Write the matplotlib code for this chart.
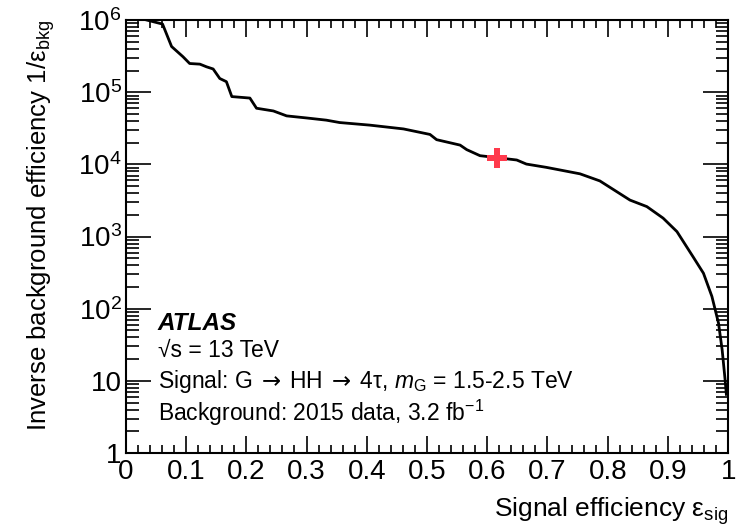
import numpy as np
import matplotlib
matplotlib.use('Agg')
import matplotlib.pyplot as plt
from matplotlib.ticker import LogLocator, MultipleLocator, NullFormatter

plt.rcParams['font.family'] = ['Liberation Sans', 'DejaVu Sans']
plt.rcParams['mathtext.fontset'] = 'custom'
plt.rcParams['mathtext.rm'] = 'Liberation Sans'
plt.rcParams['mathtext.it'] = 'Liberation Sans:italic'
plt.rcParams['mathtext.bf'] = 'Liberation Sans:bold'
plt.rcParams['mathtext.sf'] = 'DejaVu Sans'
plt.rcParams['mathtext.default'] = 'regular'

# ROC curve
eff_sig = [0.035, 0.061, 0.076, 0.095, 0.106, 0.123, 0.134, 0.145, 0.156, 0.167,
           0.176, 0.206, 0.217, 0.245, 0.267, 0.300, 0.333, 0.355, 0.405, 0.461,
           0.505, 0.516, 0.555, 0.566, 0.588, 0.616, 0.649, 0.665, 0.698, 0.754,
           0.787, 0.837, 0.865, 0.892, 0.915, 0.942, 0.959, 0.973, 0.984, 0.990,
           0.995, 0.997]
inv_bkg = [1.0e6, 8.8e5, 4.3e5, 3.1e5, 2.5e5, 2.45e5, 2.25e5, 2.1e5, 1.55e5, 1.4e5,
           8.7e4, 8.3e4, 6.0e4, 5.5e4, 4.7e4, 4.4e4, 4.1e4, 3.8e4, 3.5e4, 3.1e4,
           2.6e4, 2.2e4, 1.85e4, 1.6e4, 1.32e4, 1.24e4, 1.15e4, 1.01e4, 9.1e3, 7.4e3,
           5.9e3, 3.2e3, 2.6e3, 1.8e3, 1.17e3, 5.2e2, 3.1e2, 1.48e2, 63, 27,
           10.2, 6.5]

# working point
wp_sig = [0.616]
wp_bkg = [1.24e4]

y_ticks = [1, 10, 100, 1e3, 1e4, 1e5, 1e6]
y_labels = ['1', '10', '$10^{2}$', '$10^{3}$', '$10^{4}$', '$10^{5}$', '$10^{6}$']
x_ticks = [0, 0.1, 0.2, 0.3, 0.4, 0.5, 0.6, 0.7, 0.8, 0.9, 1]
x_labels = ['0', '0.1', '0.2', '0.3', '0.4', '0.5', '0.6', '0.7', '0.8', '0.9', '1']

fig = plt.figure(figsize=(7.4, 5.28), dpi=100)
ax = fig.add_axes([0.170, 0.142, 0.814, 0.820])

ax.plot(eff_sig, inv_bkg, color='black', lw=2.0)
ax.plot(wp_sig, wp_bkg, marker='P', color='#ff3a4c', markersize=15, ls='none',
        markeredgewidth=0)

ax.set_yscale('log')
ax.set_xlim(0, 1)
ax.set_ylim(1, 1e6)

ax.set_xticks(x_ticks)
ax.set_xticklabels(x_labels)
ax.xaxis.set_minor_locator(MultipleLocator(0.02))
ax.set_yticks(y_ticks)
ax.set_yticklabels(y_labels)
ax.yaxis.set_minor_locator(LogLocator(base=10, subs=np.arange(2, 10), numticks=20))
ax.yaxis.set_minor_formatter(NullFormatter())

ax.tick_params(which='both', direction='in', top=True, right=True, width=1.2,
               labelsize=20)
ax.tick_params(axis='x', which='major', length=12, pad=4)
ax.tick_params(axis='x', which='minor', length=6)
ax.tick_params(axis='y', which='major', length=18, pad=3)
ax.tick_params(axis='y', which='minor', length=9)
for s in ax.spines.values():
    s.set_linewidth(1.5)

ax.set_xlabel('Signal efficiency ε$_{sig}$', fontsize=19, loc='right', labelpad=8)
ax.set_ylabel('Inverse background efficiency 1/ε$_{bkg}$', fontsize=18.5, loc='top',
              labelpad=15)

ax.text(0.053, 0.30, 'ATLAS', transform=ax.transAxes, fontsize=17.5,
        fontweight='bold', fontstyle='italic', va='center')
ax.text(0.053, 0.238, '√s = 13 TeV', transform=ax.transAxes, fontsize=16.5, va='center')
ax.text(0.053, 0.166,
        'Signal: G$\\;\\mathsf{\\rightarrow}\\;$HH$\\;\\mathsf{\\rightarrow}\\;$4τ, '
        '$\\mathit{m}_{G}$ = 1.5-2.5 TeV',
        transform=ax.transAxes, fontsize=16.5, va='center')
ax.text(0.053, 0.092, 'Background: 2015 data, 3.2 fb$^{-1}$',
        transform=ax.transAxes, fontsize=16.5, va='center')

fig.savefig('out.png', dpi=100)
